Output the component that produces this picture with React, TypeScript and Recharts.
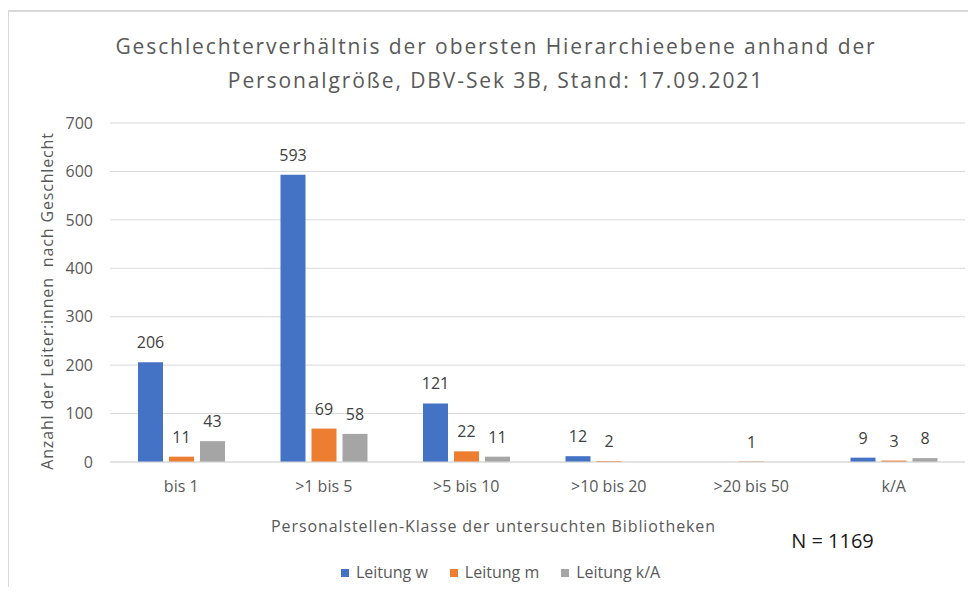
import React from 'react';
import { BarChart, Bar, XAxis, YAxis, CartesianGrid, LabelList, Legend } from 'recharts';

const categories = ['bis 1', '>1 bis 5', '>5 bis 10', '>10 bis 20', '>20 bis 50', 'k/A'];
const leitungW: (number | null)[] = [206, 593, 121, 12, null, 9];
const leitungM: (number | null)[] = [11, 69, 22, 2, 1, 3];
const leitungKA: (number | null)[] = [43, 58, 11, null, null, 8];
const yTicks = [0, 100, 200, 300, 400, 500, 600, 700];
const seriesKeys = ['w', 'm', 'ka'];
const seriesNames = ['Leitung w', 'Leitung m', 'Leitung k/A'];
const seriesColors = ['#4472C4', '#ED7D31', '#A5A5A5'];
const titleLines = [
  'Geschlechterverhältnis der obersten Hierarchieebene anhand der',
  'Personalgröße, DBV-Sek 3B, Stand: 17.09.2021',
];
const xAxisTitle = 'Personalstellen-Klasse der untersuchten Bibliotheken';
const yAxisTitle = 'Anzahl der Leiter:innen  nach Geschlecht';
const noteText = 'N = 1169';

const data = categories.map((c, i) => ({
  cat: c,
  w: leitungW[i],
  m: leitungM[i],
  ka: leitungKA[i],
}));

const FONT = '"Open Sans", sans-serif';
const W = 960;
const H = 579;

const LegendContent = () => (
  <div
    style={{
      display: 'flex',
      justifyContent: 'center',
      paddingLeft: 28,
      fontFamily: FONT,
      fontSize: 16,
      lineHeight: '20px',
      color: '#595959',
    }}
  >
    {seriesNames.map((n, i) => (
      <div key={n} style={{ display: 'flex', alignItems: 'center', marginRight: i < 2 ? 22 : 0 }}>
        <span
          style={{
            display: 'inline-block',
            width: 8,
            height: 8,
            background: seriesColors[i],
            marginRight: 7,
            marginTop: 2,
          }}
        />
        <span>{n}</span>
      </div>
    ))}
  </div>
);

export default function App() {
  return (
    <div style={{ position: 'relative', width: W, height: H }}>
      <div
        style={{
          position: 'absolute',
          left: -1,
          top: 2,
          width: W + 1,
          height: H - 2,
          borderLeft: '2px solid #D9D9D9',
          borderTop: '2px solid #D9D9D9',
          boxSizing: 'border-box',
        }}
      />
      <div style={{ position: 'absolute', left: 0, top: 0 }}>
        <BarChart
          width={W}
          height={H}
          data={data}
          margin={{ top: 115, right: 3, left: 0, bottom: 25 }}
          barSize={25}
          barGap={6}
          style={{ fontFamily: FONT }}
        >
          <CartesianGrid vertical={false} stroke="#D9D9D9" strokeWidth={1} />
          <XAxis
            dataKey="cat"
            height={100}
            tickSize={0}
            tickMargin={19}
            axisLine={{ stroke: '#D9D9D9' }}
            tickLine={false}
            tick={{ fill: '#595959', fontSize: 16, fontFamily: FONT }}
            interval={0}
          />
          <YAxis
            width={102}
            domain={[0, 700]}
            ticks={yTicks}
            tickSize={0}
            tickMargin={17}
            axisLine={false}
            tickLine={false}
            tick={{ fill: '#595959', fontSize: 16, fontFamily: FONT }}
          />
          <Legend
            layout="horizontal"
            verticalAlign="middle"
            align="center"
            wrapperStyle={{ top: 554 }}
            content={<LegendContent />}
          />
          {seriesKeys.map((k, i) => (
            <Bar key={k} dataKey={k} name={seriesNames[i]} fill={seriesColors[i]} isAnimationActive={false}>
              <LabelList
                dataKey={k}
                position="top"
                offset={14}
                fill="#404040"
                fontSize={16}
                fontFamily={FONT}
                formatter={(v: any) => (v == null ? '' : v)}
              />
            </Bar>
          ))}
        </BarChart>
      </div>
      <svg
        width={W}
        height={H}
        style={{ position: 'absolute', left: 0, top: 0, pointerEvents: 'none' }}
      >
        {titleLines.map((t, i) => (
          <text
            key={i}
            x={488}
            y={46.3 + i * 33.4}
            textAnchor="middle"
            fill="#595959"
            fontFamily={FONT}
            fontSize={21}
            style={{ letterSpacing: '1.9px' }}
          >
            {t}
          </text>
        ))}
        <text
          x={485.5}
          y={523.5}
          textAnchor="middle"
          fill="#595959"
          fontFamily={FONT}
          fontSize={16}
          style={{ letterSpacing: '0.9px' }}
        >
          {xAxisTitle}
        </text>
        <text
          x={45.3}
          y={293}
          transform="rotate(-90 45.3 293)"
          textAnchor="middle"
          fill="#595959"
          fontFamily={FONT}
          fontSize={16}
          style={{ letterSpacing: '0.85px', whiteSpace: 'pre' }}
        >
          {yAxisTitle}
        </text>
        <text x={824.5} y={540} textAnchor="middle" fill="#1A1A1A" fontFamily={FONT} fontSize={20}>
          {noteText}
        </text>
      </svg>
    </div>
  );
}
